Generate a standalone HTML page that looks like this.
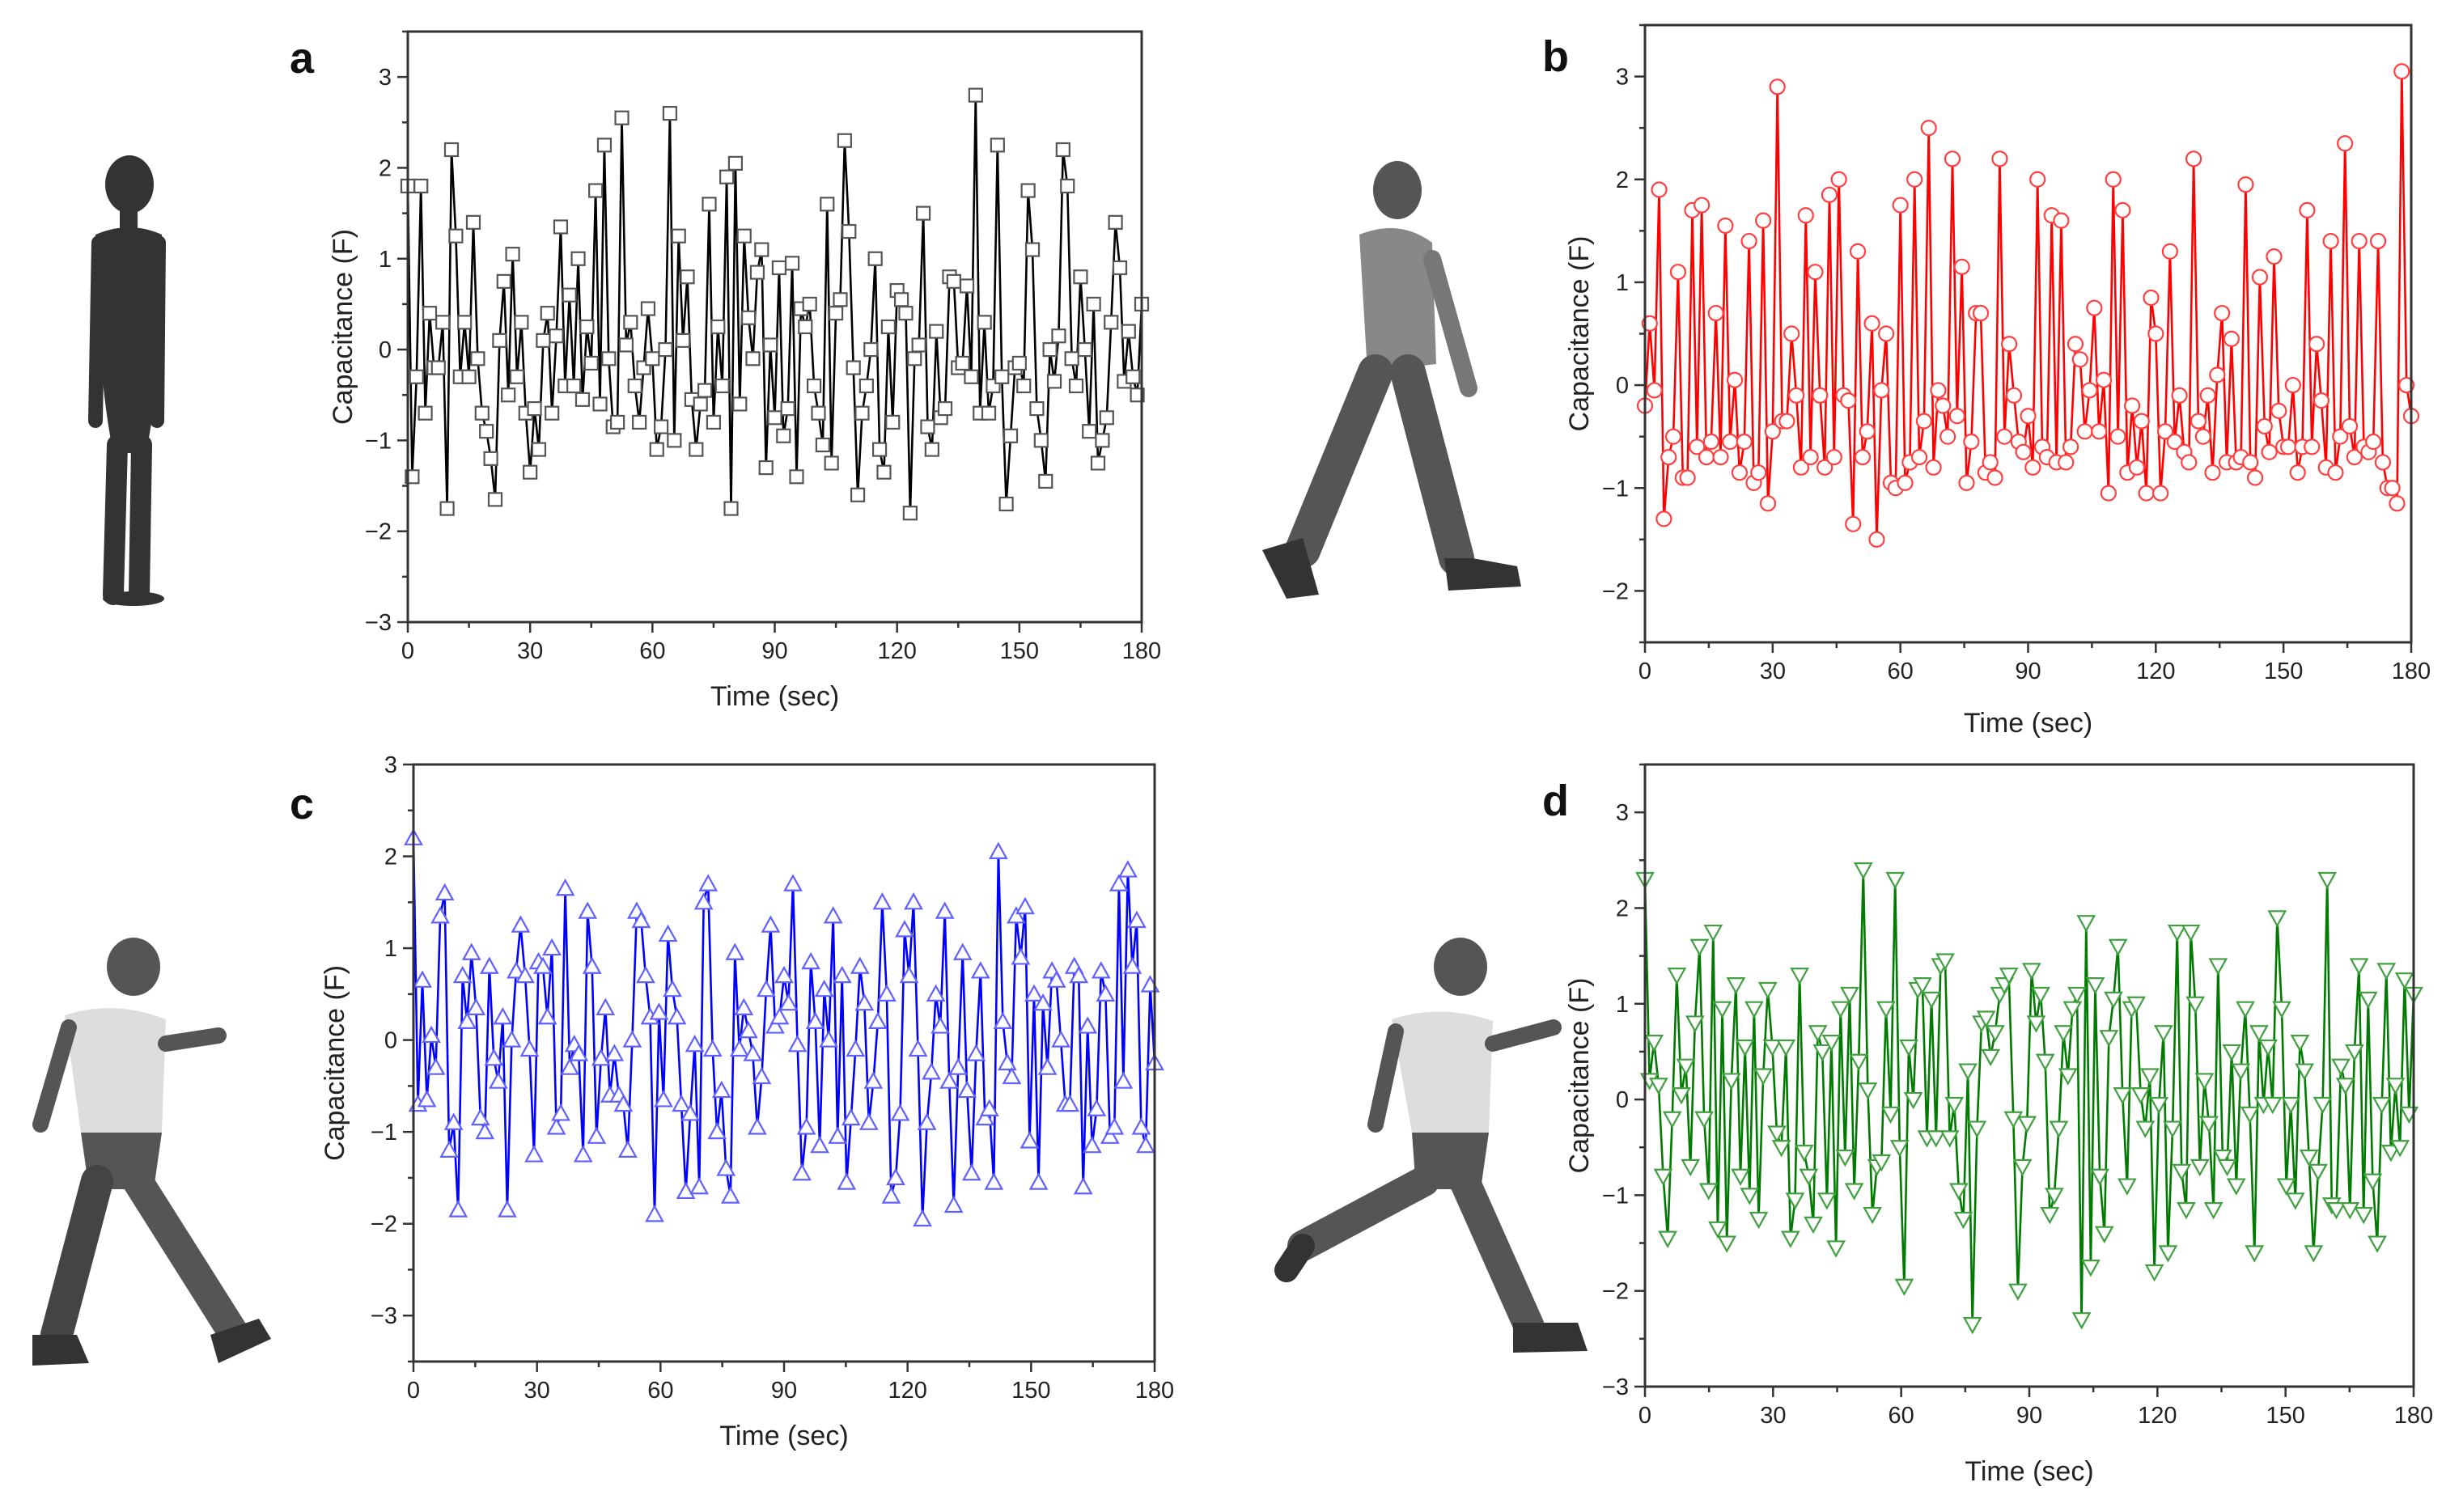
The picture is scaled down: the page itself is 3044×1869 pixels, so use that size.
<!DOCTYPE html>
<html><head><meta charset="utf-8"><style>
html,body{margin:0;padding:0;background:#fff;}
svg{display:block;}
text{font-family:"Liberation Sans",Arial,sans-serif;}
</style></head><body>
<svg id="fig" width="3044" height="1869" viewBox="0 0 3044 1869" xmlns="http://www.w3.org/2000/svg">
<!-- silhouettes -->
<g fill="#333" stroke="#333" stroke-linecap="round">
<ellipse cx="160" cy="228" rx="30" ry="36" stroke="none"/>
<rect x="148" y="255" width="22" height="30" stroke="none"/>
<path d="M118 290 Q160 272 200 290 L196 430 Q190 520 180 560 L140 560 Q128 500 124 430 Z" stroke="none"/>
<line x1="122" y1="300" x2="118" y2="520" stroke-width="18"/>
<line x1="196" y1="300" x2="194" y2="520" stroke-width="18"/>
<line x1="145" y1="550" x2="140" y2="735" stroke-width="26"/>
<line x1="175" y1="550" x2="172" y2="735" stroke-width="26"/>
<ellipse cx="165" cy="740" rx="38" ry="9" stroke="none"/>
</g>
<g stroke-linecap="round">
<ellipse cx="1727" cy="235" rx="30" ry="36" fill="#555"/>
<path d="M1680 290 Q1730 270 1770 300 L1775 450 L1690 460 Z" fill="#888"/>
<line x1="1770" y1="320" x2="1815" y2="480" stroke="#777" stroke-width="22"/>
<line x1="1700" y1="460" x2="1610" y2="680" stroke="#555" stroke-width="44"/>
<line x1="1740" y1="460" x2="1800" y2="690" stroke="#555" stroke-width="44"/>
<path d="M1560 680 L1610 665 L1630 735 L1590 740 Z" fill="#333"/>
<path d="M1785 690 L1820 690 L1875 700 L1880 725 L1790 730 Z" fill="#333"/>
</g>
<g stroke-linecap="round">
<ellipse cx="165" cy="1195" rx="33" ry="36" fill="#555"/>
<path d="M80 1255 Q140 1235 205 1260 L200 1400 L100 1400 Z" fill="#ddd"/>
<line x1="85" y1="1270" x2="50" y2="1390" stroke="#555" stroke-width="20"/>
<line x1="205" y1="1290" x2="270" y2="1280" stroke="#555" stroke-width="20"/>
<path d="M100 1400 L200 1400 L190 1470 L110 1470 Z" fill="#555"/>
<line x1="120" y1="1460" x2="70" y2="1650" stroke="#444" stroke-width="40"/>
<line x1="170" y1="1460" x2="290" y2="1650" stroke="#555" stroke-width="38"/>
<path d="M40 1650 L95 1650 L110 1685 L40 1688 Z" fill="#333"/>
<path d="M260 1650 L320 1630 L335 1655 L270 1685 Z" fill="#333"/>
</g>
<g stroke-linecap="round">
<ellipse cx="1805" cy="1195" rx="33" ry="36" fill="#555"/>
<path d="M1720 1260 Q1780 1240 1845 1262 L1840 1400 L1745 1400 Z" fill="#ddd"/>
<line x1="1725" y1="1275" x2="1700" y2="1390" stroke="#555" stroke-width="20"/>
<line x1="1845" y1="1290" x2="1920" y2="1270" stroke="#555" stroke-width="20"/>
<path d="M1745 1400 L1840 1400 L1830 1470 L1750 1470 Z" fill="#555"/>
<line x1="1760" y1="1460" x2="1610" y2="1540" stroke="#555" stroke-width="38"/>
<line x1="1610" y1="1540" x2="1590" y2="1570" stroke="#333" stroke-width="30"/>
<line x1="1810" y1="1460" x2="1890" y2="1640" stroke="#555" stroke-width="38"/>
<path d="M1870 1635 L1950 1635 L1962 1670 L1870 1672 Z" fill="#333"/>
</g>
</svg>
<script>
const yTicksA=[-3,-2,-1,0,1,2,3];
const yTicksB=[-2,-1,0,1,2,3];
const yTicksC=[-3,-2,-1,0,1,2,3];
const yTicksD=[-3,-2,-1,0,1,2,3];
const xTicks=[0,30,60,90,120,150,180];
const seriesA=[1.8,-1.4,-0.3,1.8,-0.7,0.4,-0.2,-0.2,0.3,-1.75,2.2,1.25,-0.3,0.3,-0.3,1.4,-0.1,-0.7,-0.9,-1.2,-1.65,0.1,0.75,-0.5,1.05,-0.3,0.3,-0.7,-1.35,-0.65,-1.1,0.1,0.4,-0.7,0.15,1.35,-0.4,0.6,-0.4,1.0,-0.55,0.25,-0.15,1.75,-0.6,2.25,-0.1,-0.85,-0.8,2.55,0.05,0.3,-0.4,-0.8,-0.2,0.45,-0.1,-1.1,-0.85,0.0,2.6,-1.0,1.25,0.1,0.8,-0.55,-1.1,-0.6,-0.45,1.6,-0.8,0.25,-0.4,1.9,-1.75,2.05,-0.6,1.25,0.35,-0.1,0.85,1.1,-1.3,0.05,-0.75,0.9,-0.95,-0.65,0.95,-1.4,0.45,0.25,0.5,-0.4,-0.7,-1.05,1.6,-1.25,0.4,0.55,2.3,1.3,-0.2,-1.6,-0.7,-0.4,0.0,1.0,-1.1,-1.35,0.25,-0.8,0.65,0.55,0.4,-1.8,-0.1,0.05,1.5,-0.85,-1.1,0.2,-0.75,-0.65,0.8,0.75,-0.2,-0.15,0.7,-0.3,2.8,-0.7,0.3,-0.7,-0.4,2.25,-0.3,-1.7,-0.95,-0.2,-0.15,-0.4,1.75,1.1,-0.65,-1.0,-1.45,0.0,-0.35,0.15,2.2,1.8,-0.1,-0.4,0.8,0.0,-0.9,0.5,-1.25,-1.0,-0.75,0.3,1.4,0.9,-0.35,0.2,-0.3,-0.5,0.5];
const seriesB=[-0.2,0.6,-0.05,1.9,-1.3,-0.7,-0.5,1.1,-0.9,-0.9,1.7,-0.6,1.75,-0.7,-0.55,0.7,-0.7,1.55,-0.55,0.05,-0.85,-0.55,1.4,-0.95,-0.85,1.6,-1.15,-0.45,2.9,-0.35,-0.35,0.5,-0.1,-0.8,1.65,-0.7,1.1,-0.1,-0.8,1.85,-0.7,2.0,-0.1,-0.15,-1.35,1.3,-0.7,-0.45,0.6,-1.5,-0.05,0.5,-0.95,-1.0,1.75,-0.95,-0.75,2.0,-0.7,-0.35,2.5,-0.8,-0.05,-0.2,-0.5,2.2,-0.3,1.15,-0.95,-0.55,0.7,0.7,-0.85,-0.75,-0.9,2.2,-0.5,0.4,-0.1,-0.55,-0.65,-0.3,-0.8,2.0,-0.6,-0.7,1.65,-0.75,1.6,-0.75,-0.6,0.4,0.25,-0.45,-0.05,0.75,-0.45,0.05,-1.05,2.0,-0.5,1.7,-0.85,-0.2,-0.8,-0.35,-1.05,0.85,0.5,-1.05,-0.45,1.3,-0.55,-0.1,-0.65,-0.75,2.2,-0.35,-0.5,-0.1,-0.85,0.1,0.7,-0.75,0.45,-0.75,-0.7,1.95,-0.75,-0.9,1.05,-0.4,-0.65,1.25,-0.25,-0.6,-0.6,0.0,-0.85,-0.6,1.7,-0.6,0.4,-0.15,-0.8,1.4,-0.85,-0.5,2.35,-0.4,-0.7,1.4,-0.6,-0.65,-0.55,1.4,-0.75,-1.0,-1.0,-1.15,3.05,0.0,-0.3];
const seriesC=[2.2,-0.7,0.65,-0.65,0.05,-0.3,1.35,1.6,-1.2,-0.9,-1.85,0.7,0.2,0.95,0.35,-0.85,-1.0,0.8,-0.2,-0.45,0.25,-1.85,0.0,0.75,1.25,0.7,-0.1,-1.25,0.85,0.8,0.25,1.0,-0.95,-0.8,1.65,-0.3,-0.05,-0.15,-1.25,1.4,0.8,-1.05,-0.2,0.35,-0.6,-0.15,-0.6,-0.7,-1.2,0.0,1.4,1.3,0.7,0.25,-1.9,0.3,-0.65,1.15,0.55,0.25,-0.7,-1.65,-0.8,-0.05,-1.6,1.5,1.7,-0.1,-1.0,-0.55,-1.4,-1.7,0.95,-0.1,0.35,0.1,-0.15,-0.95,-0.4,0.55,1.25,0.15,0.25,0.7,0.4,1.7,-0.05,-1.45,-0.95,0.85,0.2,-1.15,0.55,0.0,1.35,-1.05,0.7,-1.55,-0.85,-0.1,0.8,0.4,-0.9,-0.45,0.2,1.5,0.5,-1.7,-1.5,-0.8,1.2,0.7,1.5,-0.1,-1.95,-0.9,-0.35,0.5,0.15,1.4,-0.45,-1.8,-0.3,0.95,-0.55,-1.45,-0.15,0.75,-0.85,-0.75,-1.55,2.05,0.2,-0.25,-0.4,1.35,0.9,1.45,-1.1,0.5,-1.55,0.4,-0.3,0.75,0.65,0.0,-0.7,-0.7,0.8,0.7,-1.6,0.15,-1.15,-0.75,0.75,0.5,-1.05,-0.95,1.7,-0.45,1.85,0.8,1.3,-0.95,-1.15,0.6,-0.25];
const seriesD=[2.3,0.2,0.6,0.15,-0.8,-1.45,-0.2,1.3,0.05,0.35,-0.7,0.8,1.6,-0.2,-0.95,1.75,-1.35,0.95,-1.5,0.2,1.2,-0.8,0.55,-1.0,0.95,-1.25,0.25,1.15,0.55,-0.35,-0.5,0.55,-1.45,-1.05,1.3,-0.55,-0.8,-1.3,0.7,0.5,-1.05,0.6,-1.55,0.95,-0.6,1.1,-0.95,0.4,2.4,0.1,-1.2,-0.7,-0.65,0.95,-0.15,2.3,-0.5,-1.95,0.55,0.0,1.15,1.2,-0.4,1.05,-0.4,1.4,1.45,-0.4,-0.05,-0.95,-1.25,0.3,-2.35,-0.3,0.8,0.85,0.45,0.7,1.1,1.2,1.3,-0.2,-2.0,-0.7,-0.25,1.35,0.8,1.1,0.4,-1.2,-1.0,-0.3,0.7,0.25,0.95,1.1,-2.3,1.85,-1.75,1.2,-0.8,-1.4,0.65,1.05,1.6,0.05,-0.9,0.95,1.0,0.05,-0.3,0.25,-1.8,-0.05,0.7,-1.6,-0.3,1.75,-0.75,-1.15,1.75,1.0,-0.7,0.2,-0.25,-1.15,1.4,-0.6,-0.7,0.5,-0.9,0.3,0.95,-0.15,-1.6,0.7,-0.05,0.55,-0.05,1.9,0.95,-0.9,-0.05,-1.05,0.6,0.3,-0.6,-1.6,-0.75,-0.05,2.3,-1.1,-1.15,0.35,0.15,-1.15,0.5,1.4,-1.2,1.05,-0.85,-1.5,-0.05,1.35,-0.55,0.15,-0.5,1.25,-0.15,1.1];

const NS="http://www.w3.org/2000/svg";
const svg=document.getElementById('fig');
function mk(tag,attrs,parent){const e=document.createElementNS(NS,tag);for(const k in attrs)e.setAttribute(k,attrs[k]);(parent||svg).appendChild(e);return e;}

function panel(cfg){
  const g=mk('g',{});
  
  
  const xs=v=>cfg.L+(v-0)/180*(cfg.R-cfg.L);
  const ys=v=>cfg.B-(v-cfg.ymin)/(cfg.ymax-cfg.ymin)*(cfg.B-cfg.T);
  // data line
  const n=cfg.data.length;
  let d='';
  cfg.data.forEach((v,i)=>{const x=xs(i*180/(n-1)),y=ys(v);d+=(i?'L':'M')+x.toFixed(1)+' '+y.toFixed(1);});
  const line=mk('path',{d:d,fill:'none',stroke:cfg.color,'stroke-width':2.6,'stroke-linejoin':'miter'},g);
  
  
  const mg=mk('g',{fill:'#fff',stroke:cfg.mcolor,'stroke-width':2.2},g);
  
  
  cfg.data.forEach((v,i)=>{
    const x=xs(i*180/(n-1)),y=ys(v);let m;
    if(cfg.marker==='square')m=mk('rect',{x:x-8,y:y-8,width:16,height:16},mg);
    else if(cfg.marker==='circle')m=mk('circle',{cx:x,cy:y,r:9},mg);
    else if(cfg.marker==='up')m=mk('path',{d:`M${x} ${y-10}L${x+10} ${y+8}L${x-10} ${y+8}Z`},mg);
    else m=mk('path',{d:`M${x} ${y+10}L${x+10} ${y-8}L${x-10} ${y-8}Z`},mg);
    
    
  });
  // frame
  const fr=mk('rect',{x:cfg.L,y:cfg.T,width:cfg.R-cfg.L,height:cfg.B-cfg.T,fill:'none',stroke:'#333','stroke-width':3},g);
  
  
  // x ticks
  for(let v=0;v<=180;v+=15){
    const maj=v%30===0;
    mk('line',{x1:xs(v),x2:xs(v),y1:cfg.B,y2:cfg.B+(maj?13:7),stroke:'#333','stroke-width':2.5},g);
  }
  xTicks.forEach(v=>{
    const t=mk('text',{x:xs(v),y:cfg.B+45,'text-anchor':'middle','font-size':29,fill:'#222'},g);
    t.textContent=v;
    
    
  });
  for(let v=Math.ceil(cfg.ymin*2)/2;v<=cfg.ymax+1e-9;v+=0.5){
    const maj=Math.abs(v-Math.round(v))<1e-9;
    mk('line',{x1:cfg.L,x2:cfg.L-(maj?13:7),y1:ys(v),y2:ys(v),stroke:'#333','stroke-width':2.5},g);
  }
  cfg.yt.forEach(v=>{
    const t=mk('text',{x:cfg.L-20,y:ys(v)+10,'text-anchor':'end','font-size':29,fill:'#222'},g);
    t.textContent=v<0?'\u2212'+(-v):String(v);
    
    
  });
  const xt=mk('text',{x:(cfg.L+cfg.R)/2,y:cfg.xty,'text-anchor':'middle','font-size':34,fill:'#222'},g);
  xt.textContent='Time (sec)';
  
  
  const cy=(cfg.T+cfg.B)/2;
  const yt=mk('text',{x:cfg.ytx,y:cy,'text-anchor':'middle','font-size':34,fill:'#222',transform:`rotate(-90 ${cfg.ytx} ${cy})`},g);
  yt.textContent='Capacitance (F)';
  
  
  const lb=mk('text',{x:cfg.lx,y:cfg.ly,'font-size':54,'font-weight':'bold',fill:'#111'},g);
  lb.textContent=cfg.id;
  
  
}
panel({id:'a',L:504,R:1411,T:39,B:769,ymin:-3,ymax:3.5,yt:yTicksA,data:seriesA,color:'#000',mcolor:'#555',marker:'square',xty:872,ytx:435,lx:358,ly:90});
panel({id:'b',L:2033,R:2980,T:31,B:794,ymin:-2.5,ymax:3.5,yt:yTicksB,data:seriesB,color:'#ff0000',mcolor:'#ff4040',marker:'circle',xty:905,ytx:1963,lx:1906,ly:88});
panel({id:'c',L:511,R:1427,T:945,B:1683,ymin:-3.5,ymax:3,yt:yTicksC,data:seriesC,color:'#0000ff',mcolor:'#6060ff',marker:'up',xty:1786,ytx:425,lx:358,ly:1012});
panel({id:'d',L:2033,R:2983,T:945,B:1714,ymin:-3,ymax:3.5,yt:yTicksD,data:seriesD,color:'#007a00',mcolor:'#40a040',marker:'down',xty:1830,ytx:1963,lx:1906,ly:1008});
</script>
</body></html>
